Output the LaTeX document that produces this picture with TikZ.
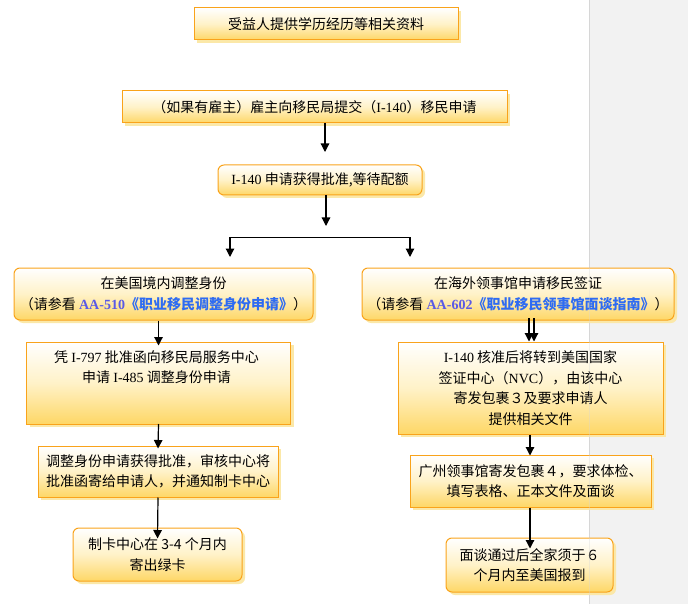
\documentclass[tikz,border=0pt]{standalone}
\usepackage{fontspec}
\setmainfont{Noto Sans CJK SC}
\newfontfamily\lat{Liberation Serif}
\usetikzlibrary{arrows.meta,shadows}
\definecolor{edgeO}{HTML}{F9A31B}
\definecolor{fillY}{HTML}{FED766}
\definecolor{fillM}{HTML}{FFF2C8}
\definecolor{shadowY}{HTML}{FBE8A8}
\definecolor{greyBG}{HTML}{F2F2F2}
\definecolor{greyLine}{HTML}{D6D6D6}
\definecolor{refA}{HTML}{5A5AE6}
\definecolor{refB}{HTML}{2E6BF2}
\begin{document}
\begin{tikzpicture}[x=1pt,y=-1pt,
  txt/.style={align=center, inner sep=0pt, font=\fontsize{14}{20.5}\selectfont},
  box/.style={txt, draw=edgeO, line width=1pt, top color=white, bottom color=fillY, middle color=fillM,
    drop shadow={shadow xshift=3pt, shadow yshift=-3pt, fill=shadowY, opacity=1}},
  rbox/.style={box, rounded corners=6pt},
  arr/.style={-{Triangle[width=8.5pt,length=8.5pt]}, line width=1.2pt, black},
  arr2/.style={{Triangle[width=8.5pt,length=8.5pt]}-{Triangle[width=8.5pt,length=8.5pt]}, line width=1.2pt, black}
]
\useasboundingbox (0,0) rectangle (688,604);
% right grey panel
\fill[greyBG] (589,0) rectangle (688,604);
\draw[greyLine, line width=1pt] (589.5,0) -- (589.5,604);

% boxes
\node[box, minimum width=264, minimum height=32] (b1) at (326,24) {受益人提供学历经历等相关资料};
\node[box, minimum width=385, minimum height=32] (b2) at (314.5,107)
  {（如果有雇主）雇主向移民局提交（{\lat I-140}）移民申请};
\node[rbox, minimum width=204, minimum height=30] (b3) at (320,180)
  {{\lat I-140} 申请获得批准,等待配额};
\node[rbox, minimum width=299, minimum height=52] (b4L) at (163.5,294)
  {在美国境内调整身份\\（请参看 {\lat\bfseries\color{refA}AA-510}{\bfseries\color{refB}《职业移民调整身份申请》}）};
\node[rbox, minimum width=312, minimum height=52] (b4R) at (518,294)
  {在海外领事馆申请移民签证\\（请参看 {\lat\bfseries\color{refA}AA-602}{\bfseries\color{refB}《职业移民领事馆面谈指南》}）};
\node[box, minimum width=264, minimum height=82] (b5L) at (158.5,383) {};
\node[txt] (t5L) at (156.5,367) {凭 {\lat I-797} 批准函向移民局服务中心\\申请 {\lat I-485} 调整身份申请};
\node[box, minimum width=265, minimum height=92] (b5R) at (530.5,388)
  {{\lat I-140} 核准后将转到美国国家\\签证中心（{\lat NVC}），由该中心\\寄发包裹３及要求申请人\\提供相关文件};
\node[box, minimum width=240, minimum height=51] (b6L) at (158,471.5)
  {调整身份申请获得批准，审核中心将\\批准函寄给申请人，并通知制卡中心};
\node[box, minimum width=241, minimum height=52] (b6R) at (530.5,481)
  {广州领事馆寄发包裹４，要求体检、\\填写表格、正本文件及面谈};
\node[rbox, minimum width=169, minimum height=53] (b7L) at (157.5,554.5)
  {制卡中心在 3-4 个月内\\寄出绿卡};
\node[rbox, minimum width=167, minimum height=54] (b7R) at (529.5,565)
  {面谈通过后全家须于６\\个月内至美国报到};

% faint panel edge seen through boxes
\draw[greyLine, line width=1pt, opacity=0.35] (589.5,0) -- (589.5,604);

% connectors
\coordinate (p2) at (325,123);
\coordinate (p3) at (325,152);
\draw[arr] (p2) -- (p3);
\coordinate (q3) at (326,195);
\coordinate (q4) at (326,226);
\draw[arr] (q3) -- (q4);
\coordinate (tipL) at (230,257);
\coordinate (tipR) at (410,257);
\coordinate (bar) at (320,237.5);
\draw[arr2] (tipL) |- (bar) -| (tipR);

\draw[arr] (b4L.south -| b5L) -- ([yshift=-4pt]b5L.north);
\draw[arr] (b5L) ++(0,41) -- ([yshift=-3pt]b6L.north);
\draw[arr] (b6L.south) -- ([yshift=-11pt]b7L.north);

\coordinate (r1) at (529,318);
\coordinate (r2) at (534,318);
\draw[arr] (r1) -- (r1 |- b5R.north);
\draw[arr] (r2) -- (r2 |- b5R.north);
\draw[arr] (b5R.south -| 530,0) -- ([yshift=-1pt]b6R.north -| 530,0);
\draw[arr] (b6R.south -| 530,0) -- ([yshift=-11pt]b7R.north -| 530,0);
\end{tikzpicture}
\end{document}
